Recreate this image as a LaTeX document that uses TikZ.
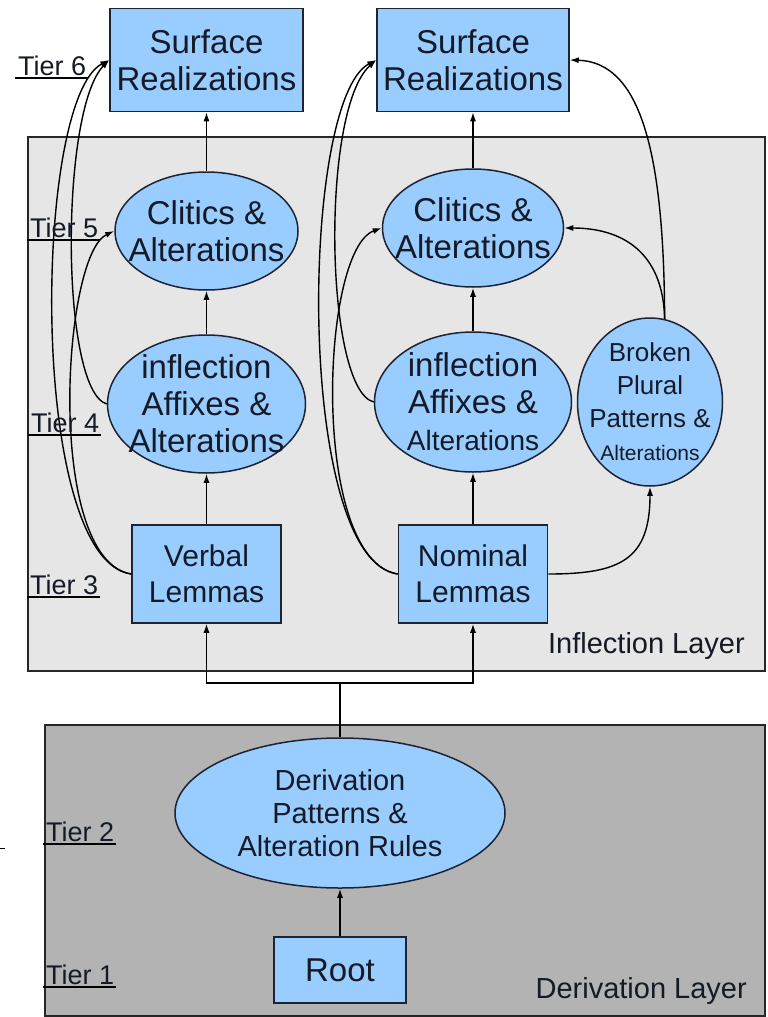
\documentclass[tikz,border=0pt]{standalone}
\usepackage{fontspec}
\setmainfont{Liberation Sans}
\usetikzlibrary{shapes.geometric,arrows.meta,calc}
\definecolor{nodefill}{HTML}{99CCFF}
\definecolor{nodeline}{HTML}{1C2433}
\definecolor{txtcol}{HTML}{141A26}
\definecolor{inflfill}{HTML}{E6E6E6}
\definecolor{derivfill}{HTML}{B3B3B3}
\begin{document}
\begin{tikzpicture}[x=1pt,y=-1pt,
  conn/.style={line width=1.4pt, -{Latex[length=9pt,width=6pt]}},
  plainline/.style={line width=1.4pt},
  boxnode/.style={draw=nodeline, fill=nodefill, line width=1.5pt, inner sep=0pt, align=center, text=txtcol},
  ellnode/.style={ellipse, draw=nodeline, fill=nodefill, line width=1.5pt, inner sep=0pt},
  txt/.style={align=center, inner sep=0pt, text=txtcol},
  big/.style={font=\fontsize{33}{37}\selectfont},
  mid/.style={font=\fontsize{29}{33}\selectfont},
  tier/.style={font=\fontsize{27}{30}\selectfont, inner sep=0pt, anchor=base west, text=txtcol},
  layerlab/.style={font=\fontsize{29}{32}\selectfont, inner sep=0pt, anchor=base east, text=txtcol},
  layer/.style={draw=black!85, line width=1.5pt},
  uline/.style={line width=1.3pt}
]
\useasboundingbox (0,0) rectangle (768,1017);
% layers
\path[layer, fill=inflfill] (28,137) rectangle (765,671);
\path[layer, fill=derivfill] (45,725) rectangle (765,1016);
\draw[line width=1pt] (0,848) -- (5,848);

% nodes
\node[boxnode, minimum width=193pt, minimum height=103pt, big] (sl) at (206.5,60) {Surface\\Realizations};
\node[boxnode, minimum width=192pt, minimum height=103pt, big] (sr) at (473,60) {Surface\\Realizations};

\node[ellnode, minimum width=183pt, minimum height=118pt] (cl) at (206.5,231) {};
\node[txt, big] at (cl) {Clitics \&\\Alterations};
\node[ellnode, minimum width=181pt, minimum height=118pt] (cr) at (473,228) {};
\node[txt, big] at (cr) {Clitics \&\\Alterations};

\node[ellnode, minimum width=198pt, minimum height=138pt] (il) at (206.5,404) {};
\node[txt, big] at (il) {inflection\\Affixes \&\\Alterations};
\node[ellnode, minimum width=197pt, minimum height=140pt] (ir) at (473,402) {};
\node[txt, big] at (ir) {inflection\\Affixes \&\\{\fontsize{28}{30}\selectfont Alterations}};

\node[ellnode, minimum width=145pt, minimum height=168pt] (bp) at (650,402) {};
\node[txt, font=\fontsize{26}{33}\selectfont] at (bp) {Broken\\Plural\\Patterns \&\\{\fontsize{21}{26}\selectfont Alterations}};

\node[boxnode, minimum width=149pt, minimum height=98pt, font=\fontsize{30}{36}\selectfont] (vl) at (206.5,574) {Verbal\\Lemmas};
\node[boxnode, minimum width=149pt, minimum height=98pt, font=\fontsize{30}{36}\selectfont] (nl) at (473,574) {Nominal\\Lemmas};

\node[ellnode, minimum width=330pt, minimum height=150pt] (dp) at (340,813) {};
\node[txt, mid] at (dp) {Derivation\\Patterns \&\\Alteration Rules};
\node[boxnode, minimum width=132pt, minimum height=66pt, big] (rt) at (340,970) {Root};

% straight arrows
\draw[conn] (cl.north) -- (sl.south);
\draw[conn] (il.north) -- (cl.south);
\draw[conn] (vl.north) -- (il.south);
\draw[conn] (cr.north) -- (sr.south);
\draw[conn] (ir.north) -- (cr.south);
\draw[conn] (nl.north) -- (ir.south);
\draw[conn] (rt.north) -- (dp.south);
\coordinate (split) at (340,683);
\draw[plainline] (dp.north) -- (split);
\draw[conn] (split) -| (vl.south);
\draw[conn] (split) -| (nl.south);

% left curves
\draw[conn] (vl.west) .. controls (28,560) and (33,100) .. (sl.west);
\draw[conn] (vl.west) .. controls (45,560) and (62,255) .. (cl.west);
\draw[conn] (il.west) .. controls (60,390) and (60,110) .. (sl.west);

% right curves
\draw[conn] (nl.west) .. controls (295,560) and (300,100) .. (sr.west);
\draw[conn] (nl.west) .. controls (310,560) and (320,250) .. (cr.west);
\draw[conn] (ir.west) .. controls (325,390) and (320,110) .. (sr.west);

% broken plural curves
\draw[conn] (nl.east) .. controls (620,574) and (650,560) .. (bp.south);
\draw[conn] (bp.80) .. controls (664,150) and (640,62) .. (sr.east);
\draw[conn] (bp.80) .. controls (663,250) and (620,228) .. (cr.east);

% tier labels
\node[tier] (t6) at (18,75) {Tier 6};
\node[tier] (t5) at (30,237) {Tier 5};
\node[tier] (t4) at (31,432) {Tier 4};
\node[tier] (t3) at (30,594) {Tier 3};
\node[tier] (t2) at (46,841) {Tier 2};
\node[tier] (t1) at (46,984) {Tier 1};
\foreach \t in {t6,t5,t4,t3,t2,t1}
  \draw[uline] ($(\t.base west)+(-3,3)$) -- ($(\t.base east)+(2,3)$);

% layer labels
\node[layerlab] (ll1) at (745,653) {Inflection Layer};
\node[layerlab] (ll2) at (747,998) {Derivation Layer};
\end{tikzpicture}
\end{document}
